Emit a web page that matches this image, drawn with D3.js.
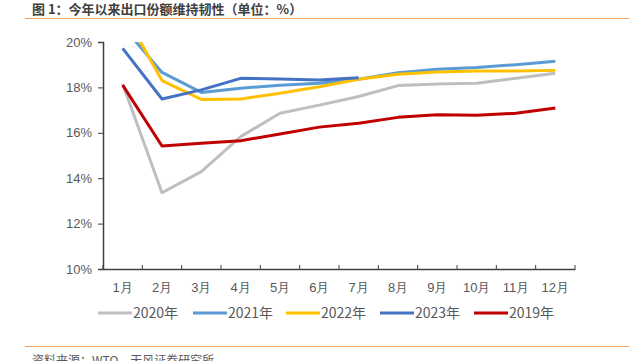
<!DOCTYPE html>
<html>
<head>
<meta charset="utf-8">
<script src="https://cdn.jsdelivr.net/npm/d3@7/dist/d3.min.js"></script>
<style>
  body { margin: 0; background: #fff; }
  svg { display: block; font-family: "Noto Sans CJK SC", "Noto Sans", sans-serif; }
</style>
</head>
<body>
<div id="chart"></div>
<script>
// data
const months = ['1月', '2月', '3月', '4月', '5月', '6月', '7月', '8月', '9月', '10月', '11月', '12月'];
const yTicks = [10, 12, 14, 16, 18, 20];

const s2020 = [18.15, 13.36, 14.29, 15.83, 16.86, 17.22, 17.6, 18.08, 18.15, 18.18, 18.4, 18.62];
const s2021 = [20.7, 18.66, 17.78, 17.96, 18.1, 18.18, 18.36, 18.65, 18.8, 18.88, 19.0, 19.15];
const s2022 = [21.4, 18.3, 17.47, 17.49, 17.74, 18.03, 18.36, 18.58, 18.68, 18.72, 18.72, 18.75];
const s2023 = [19.72, 17.49, 17.89, 18.4, 18.37, 18.33, 18.43];
const s2019 = [18.1, 15.42, 15.54, 15.65, 15.95, 16.25, 16.42, 16.68, 16.8, 16.77, 16.86, 17.09];

const seriesNames = ['2020年', '2021年', '2022年', '2023年', '2019年'];
const seriesColors = ['#BFBFBF', '#5B9BD5', '#FFC000', '#4472C4', '#C00000'];
const seriesValues = [s2020, s2021, s2022, s2023, s2019];

const width = 629, height = 361;
const margin = { top: 42, right: 54, bottom: 92, left: 103 };
const plotW = width - margin.left - margin.right;
const plotH = height - margin.top - margin.bottom;

const svg = d3.select('#chart').append('svg')
  .attr('width', width)
  .attr('height', height);

// title + rules
svg.append('text')
  .attr('x', 32).attr('y', 14)
  .attr('fill', '#404040')
  .style('font-size', '13px')
  .style('font-weight', 'bold')
  .text('图 1：今年以来出口份额维持韧性（单位：%）');

svg.append('line')
  .attr('x1', 25).attr('x2', width).attr('y1', 18.5).attr('y2', 18.5)
  .attr('stroke', '#F4A460').attr('stroke-width', 1.2);

svg.append('line')
  .attr('x1', 25).attr('x2', width).attr('y1', 346.5).attr('y2', 346.5)
  .attr('stroke', '#F4A460').attr('stroke-width', 1.2);

svg.append('text')
  .attr('x', 32).attr('y', 365)
  .attr('fill', '#595959')
  .style('font-size', '12px')
  .text('资料来源：WTO，天风证券研究所');

const chart = svg.append('g')
  .attr('transform', `translate(${margin.left}, ${margin.top})`);

const xScale = d3.scaleBand()
  .domain(months)
  .range([0, plotW]);

const yScale = d3.scaleLinear()
  .domain([10, 20])
  .range([plotH, 0]);

chart.append('defs').append('clipPath')
  .attr('id', 'plotclip')
  .append('rect')
  .attr('x', 0).attr('y', 0)
  .attr('width', plotW).attr('height', plotH);

// lines
const line = d3.line()
  .x((d, i) => xScale(months[i]) + xScale.bandwidth() / 2)
  .y(d => yScale(d));

chart.append('g')
  .attr('clip-path', 'url(#plotclip)')
  .selectAll('.series')
  .data(seriesValues)
  .enter()
  .append('path')
  .classed('series', true)
  .attr('d', d => line(d))
  .attr('fill', 'none')
  .attr('stroke', (d, i) => seriesColors[i])
  .attr('stroke-width', 3)
  .attr('stroke-linejoin', 'round');

// axes
const xAxis = d3.axisBottom(xScale)
  .tickSize(0)
  .tickPadding(14);

const gx = chart.append('g')
  .classed('x axis', true)
  .attr('transform', `translate(0, ${plotH})`)
  .call(xAxis);
gx.select('.domain').attr('stroke', '#404040').attr('stroke-width', 1.5);
gx.selectAll('text').attr('fill', '#595959').style('font-size', '13px');

// x ticks sit on band edges, pointing up
gx.selectAll('.edge')
  .data(months.concat(['end']))
  .enter()
  .append('line')
  .classed('edge', true)
  .attr('x1', (d, i) => i * xScale.step())
  .attr('x2', (d, i) => i * xScale.step())
  .attr('y1', 0).attr('y2', -4)
  .attr('stroke', '#404040').attr('stroke-width', 1);

const yAxis = d3.axisLeft(yScale)
  .tickValues(yTicks)
  .tickSize(5)
  .tickPadding(6)
  .tickFormat(d => d + '%');

const gy = chart.append('g')
  .classed('y axis', true)
  .call(yAxis);
gy.select('.domain').attr('stroke', '#404040').attr('stroke-width', 1.5);
gy.selectAll('.tick line').attr('stroke', '#404040');
gy.selectAll('text').attr('fill', '#595959').style('font-size', '13px')
  .style('font-family', '"Liberation Sans", Arial, sans-serif');

// legend
const legendX = [98, 193, 286, 380, 474];
const legend = svg.append('g').classed('legend', true);
const item = legend.selectAll('.item')
  .data(seriesNames)
  .enter()
  .append('g')
  .classed('item', true)
  .attr('transform', (d, i) => `translate(${legendX[i]}, 313)`);

item.append('line')
  .attr('x1', 0).attr('x2', 34)
  .attr('stroke', (d, i) => seriesColors[i])
  .attr('stroke-width', 3);

item.append('text')
  .attr('x', 35).attr('dy', '0.35em')
  .attr('fill', '#595959')
  .style('font-size', '14px')
  .text(d => d);
</script>
</body>
</html>
